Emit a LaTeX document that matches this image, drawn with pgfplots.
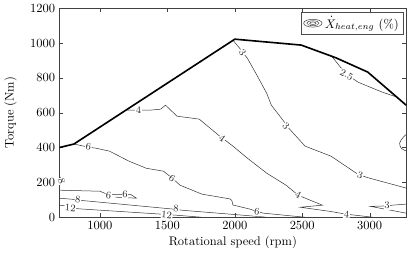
\documentclass[border=0pt]{standalone}
\usepackage{pgfplots}
\pgfplotsset{compat=1.18}
\tikzset{clab/.style={fill=white, inner sep=0.5pt, font=\footnotesize, text=black!85}}
\begin{document}
\begin{tikzpicture}
\begin{axis}[
  scale only axis, width=277bp, height=167bp,
  xmin=700, xmax=3271, ymin=0, ymax=1200,
  xtick={1000,1500,2000,2500,3000}, ytick={0,200,400,600,800,1000,1200},
  /pgf/number format/1000 sep={},
  tick align=inside, xtick pos=both, ytick pos=both,
  major tick length=3bp,
  axis line style={black!75}, tick style={black!75},
  xlabel={Rotational speed (rpm)}, ylabel={Torque (Nm)},
  xlabel style={yshift=2pt}, ylabel style={yshift=4pt},
  clip=false,
  legend style={at={(0.992,0.982)}, anchor=north east, draw=black!70, inner sep=1.5pt, font=\normalsize},
  legend cell align=left,
]
\addlegendimage{legend image code/.code={
  \draw[black!75,line width=0.4pt] (0.3cm,0) ellipse (0.26cm and 0.11cm);
  \draw[black!75,line width=0.4pt] (0.3cm,0) ellipse (0.17cm and 0.07cm);
  \draw[black!75,line width=0.4pt] (0.3cm,0) ellipse (0.09cm and 0.035cm);}}
\addlegendentry{$\dot{X}_{heat,eng}$ (\%)}

% contour 4
\addplot[black!80, line width=0.4pt, forget plot] coordinates {
 (1190,614) (1364,614) (1450,620) (1486,643) (1571,580) (1736,563) (1879,471)
 (1986,408) (2093,339) (2236,253) (2379,184) (2471,126) (2557,98) (2650,69)
 (2486,57) (2700,34) (2829,17) (3021,0)};
% contour 6 upper
\addplot[black!80, line width=0.4pt, forget plot] coordinates {
 (807,420) (914,402) (971,396) (1071,379) (1214,322) (1343,281) (1471,264)
 (1536,224) (1593,184) (1757,132) (1964,105) (1978,96) (1986,70) (2114,46)
 (2164,32) (2214,23) (2436,6) (2521,0)};
% contour 6 lower loop
\addplot[black!80, line width=0.4pt, forget plot] coordinates {
 (700,155) (1000,149) (1064,128) (1120,131) (1186,132) (1229,130) (1271,109) (1114,115)};
% contour 8 small at left edge
\addplot[black!80, line width=0.4pt, forget plot] coordinates {
 (700,232) (712,222) (720,207) (714,194) (700,188)};
% contour 8
\addplot[black!80, line width=0.4pt, forget plot] coordinates {
 (700,109) (793,103) (836,99) (864,96) (1521,48) (1565,45) (1607,40) (2143,6) (2230,0)};
% contour 12
\addplot[black!80, line width=0.4pt, forget plot] coordinates {
 (700,69) (736,66) (780,56) (843,48) (1464,17) (1495,15) (1571,11) (1750,0)};
% contour 3 main
\addplot[black!80, line width=0.4pt, forget plot] coordinates {
 (1986,1016) (2036,970) (2057,947) (2093,913) (2164,815) (2236,712) (2271,643)
 (2357,557) (2400,511) (2521,408) (2714,350) (2900,253) (2929,241) (3000,224) (3271,167)};
% contour 2.5
\addplot[black!80, line width=0.4pt, forget plot] coordinates {
 (2720,923) (2771,873) (2829,820) (2914,775) (3093,718) (3200,690)};
% contour 3 small loop at right edge
\addplot[black!80, line width=0.4pt, forget plot, smooth] coordinates {
 (3271,475) (3245,455) (3222,425) (3235,395) (3271,380)};
% contour 3 bottom right
\addplot[black!80, line width=0.4pt, forget plot] coordinates {
 (3271,75) (3186,70) (3129,66) (3093,64) (3007,62) (3271,23)};
% torque envelope
\addplot[black, line width=1.3pt, forget plot] coordinates {
 (700,400) (807,420) (2000,1022) (2493,988) (2750,915) (2986,833) (3271,643)};

% contour labels
\node[clab] at (axis cs:1286,614) {4};
\node[clab, rotate=-36] at (axis cs:1907,454) {4};
\node[clab, rotate=-28] at (axis cs:2471,126) {4};
\node[clab, rotate=-6] at (axis cs:2829,17) {4};
\node[clab, rotate=-8] at (axis cs:914,402) {6};
\node[clab, rotate=-35] at (axis cs:1536,224) {6};
\node[clab, rotate=-8] at (axis cs:2164,30) {6};
\node[clab, rotate=-5] at (axis cs:1064,124) {6};
\node[clab] at (axis cs:1186,134) {6};
\node[clab, rotate=-75] at (axis cs:716,208) {8};
\node[clab, rotate=-5] at (axis cs:836,101) {8};
\node[clab, rotate=-5] at (axis cs:1565,48) {8};
\node[clab, rotate=-5] at (axis cs:780,52) {12};
\node[clab, rotate=-5] at (axis cs:1495,13) {12};
\node[clab, rotate=-52] at (axis cs:2057,947) {3};
\node[clab, rotate=-45] at (axis cs:2379,523) {3};
\node[clab, rotate=-18] at (axis cs:2929,241) {3};
\node[clab] at (axis cs:3129,66) {3};
\node[clab, rotate=-28] at (axis cs:2829,818) {2.5};
\end{axis}
\end{tikzpicture}
\end{document}
